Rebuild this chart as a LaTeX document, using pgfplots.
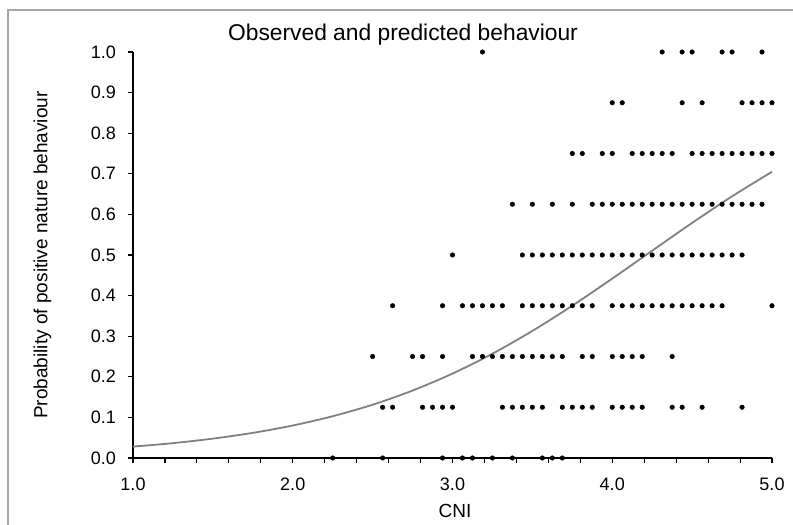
\documentclass[border=0pt]{standalone}
\usepackage{fontspec}
\setmainfont{Liberation Sans}
\usepackage{pgfplots}
\pgfplotsset{compat=1.18}
\definecolor{curvegray}{HTML}{808080}
\definecolor{framegray}{HTML}{A6A6A6}

\begin{document}
\begin{tikzpicture}[x=1pt,y=1pt]
\path[use as bounding box] (0,0) rectangle (793,525);
\draw[framegray, line width=1.3pt] (8,0) -- (8,515) -- (793,515);

\begin{axis}[
    at={(133pt,67pt)}, anchor=south west,
    scale only axis,
    width=639pt, height=406pt,
    xmin=1, xmax=5, ymin=0, ymax=1,
    axis lines=left,
    axis line style={-, line width=1.3pt},
    xtick={1,2,3,4,5},
    minor x tick num=4,
    ytick={0,0.1,...,1.0},
    tick align=outside,
    major tick length=5pt, minor tick length=5pt,
    every tick/.style={black, line width=1.1pt},
    /pgf/number format/assume math mode=true,
    /pgf/number format/.cd, fixed, fixed zerofill, precision=1, /pgfplots/.cd,
    tick label style={font=\fontsize{18}{20}\selectfont, inner sep=0pt},
    xticklabel style={anchor=north, yshift=-15pt},
    yticklabel style={anchor=east, xshift=-12pt},
    clip=false,
]

% observed behaviour (CNI in steps of 1/16)
\addplot[only marks, mark=*, mark size=2.3pt, color=black] coordinates {
    % 1.0
    (3.1875,1) (4.3125,1) (4.4375,1) (4.5,1) (4.6875,1) (4.75,1) (4.9375,1)
    % 0.875
    (4.0,0.875) (4.0625,0.875) (4.4375,0.875) (4.5625,0.875) (4.8125,0.875)
    (4.875,0.875) (4.9375,0.875) (5.0,0.875)
    % 0.75
    (3.75,0.75) (3.8125,0.75) (3.9375,0.75) (4.0,0.75) (4.125,0.75) (4.1875,0.75)
    (4.25,0.75) (4.3125,0.75) (4.375,0.75) (4.5,0.75) (4.5625,0.75) (4.625,0.75)
    (4.6875,0.75) (4.75,0.75) (4.8125,0.75) (4.875,0.75) (4.9375,0.75) (5.0,0.75)
    % 0.625
    (3.375,0.625) (3.5,0.625) (3.625,0.625) (3.75,0.625) (3.875,0.625)
    (3.9375,0.625) (4.0,0.625) (4.0625,0.625) (4.125,0.625) (4.1875,0.625)
    (4.25,0.625) (4.3125,0.625) (4.375,0.625) (4.4375,0.625) (4.5,0.625)
    (4.5625,0.625) (4.625,0.625) (4.6875,0.625) (4.75,0.625) (4.8125,0.625)
    (4.875,0.625) (4.9375,0.625)
    % 0.5
    (3.0,0.5) (3.4375,0.5) (3.5,0.5) (3.5625,0.5) (3.625,0.5) (3.6875,0.5)
    (3.75,0.5) (3.8125,0.5) (3.875,0.5) (3.9375,0.5) (4.0,0.5) (4.0625,0.5)
    (4.125,0.5) (4.1875,0.5) (4.25,0.5) (4.3125,0.5) (4.375,0.5) (4.4375,0.5)
    (4.5,0.5) (4.5625,0.5) (4.625,0.5) (4.6875,0.5) (4.75,0.5) (4.8125,0.5)
    % 0.375
    (2.625,0.375) (2.9375,0.375) (3.0625,0.375) (3.125,0.375) (3.1875,0.375)
    (3.25,0.375) (3.3125,0.375) (3.4375,0.375) (3.5,0.375) (3.5625,0.375)
    (3.625,0.375) (3.6875,0.375) (3.75,0.375) (3.8125,0.375) (3.875,0.375)
    (4.0,0.375) (4.0625,0.375) (4.125,0.375) (4.1875,0.375) (4.25,0.375)
    (4.3125,0.375) (4.375,0.375) (4.4375,0.375) (4.5,0.375) (4.5625,0.375)
    (4.625,0.375) (4.6875,0.375) (5.0,0.375)
    % 0.25
    (2.5,0.25) (2.75,0.25) (2.8125,0.25) (2.9375,0.25) (3.125,0.25) (3.1875,0.25)
    (3.25,0.25) (3.3125,0.25) (3.375,0.25) (3.4375,0.25) (3.5,0.25) (3.5625,0.25)
    (3.625,0.25) (3.6875,0.25) (3.8125,0.25) (3.875,0.25) (4.0,0.25) (4.0625,0.25)
    (4.125,0.25) (4.1875,0.25) (4.375,0.25)
    % 0.125
    (2.5625,0.125) (2.625,0.125) (2.8125,0.125) (2.875,0.125) (2.9375,0.125)
    (3.0,0.125) (3.3125,0.125) (3.375,0.125) (3.4375,0.125) (3.5,0.125)
    (3.5625,0.125) (3.6875,0.125) (3.75,0.125) (3.8125,0.125) (3.875,0.125)
    (4.0,0.125) (4.0625,0.125) (4.125,0.125) (4.1875,0.125) (4.375,0.125)
    (4.4375,0.125) (4.5625,0.125) (4.8125,0.125)
    % 0.0
    (2.25,0) (2.5625,0) (2.9375,0) (3.0625,0) (3.125,0) (3.25,0) (3.375,0)
    (3.5625,0) (3.625,0) (3.6875,0)
};

% predicted probability
\addplot[color=curvegray, line width=1.8pt, smooth] coordinates {
    (1.00,0.0280) (1.25,0.0366) (1.50,0.0477) (1.75,0.0619) (2.00,0.0800)
    (2.25,0.1029) (2.50,0.1312) (2.75,0.1661) (3.00,0.2079) (3.25,0.2569)
    (3.50,0.3130) (3.75,0.3752) (4.00,0.4419) (4.25,0.5106) (4.50,0.5791)
    (4.75,0.6445) (5.00,0.7050)
};
\end{axis}

\node[font=\fontsize{22.8}{25}\selectfont] at (403,490.5) {Observed and predicted behaviour};
\node[font=\fontsize{19}{21}\selectfont, rotate=90] at (42.5,270) {Probability of positive nature behaviour};
\node[font=\fontsize{19}{21}\selectfont] at (455,14) {CNI};
\end{tikzpicture}
\end{document}
